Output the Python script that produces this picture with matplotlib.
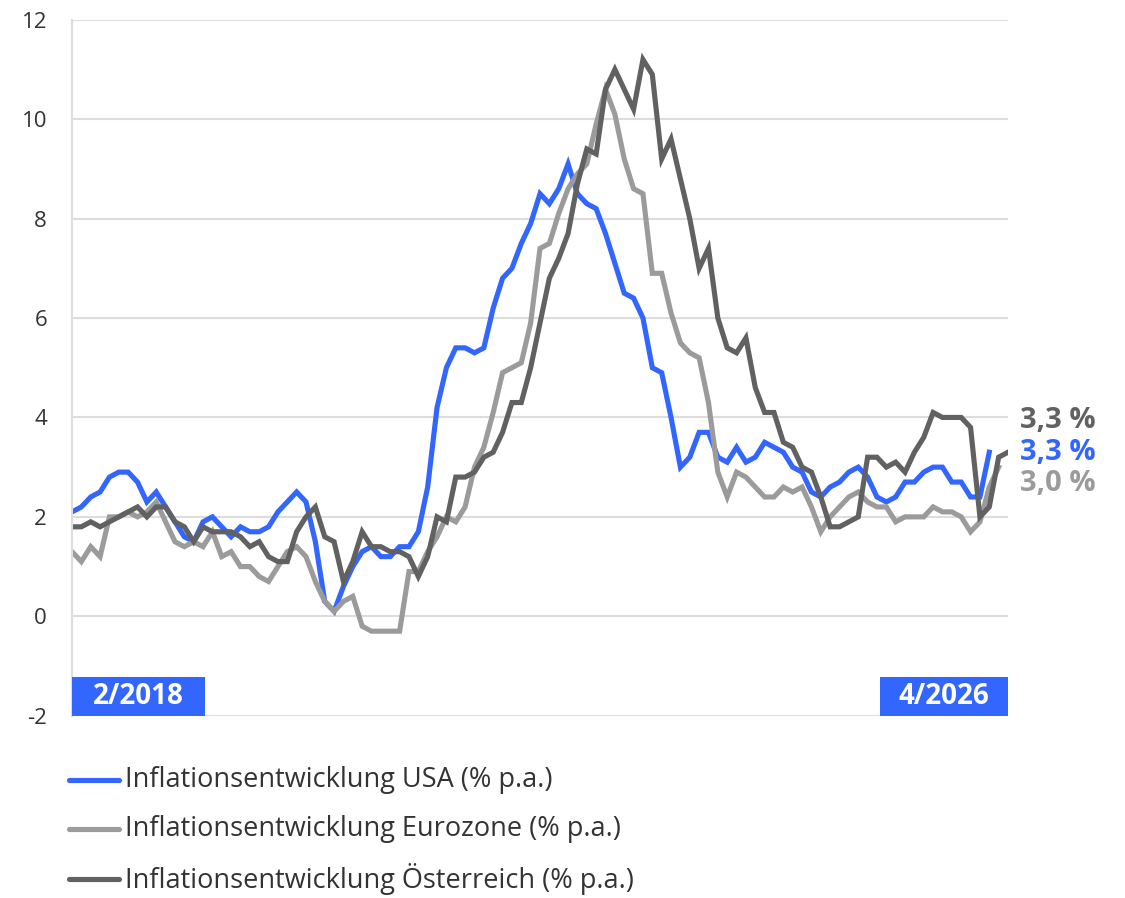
import matplotlib
matplotlib.use("Agg")
import matplotlib.pyplot as plt
from matplotlib.patches import Rectangle
from matplotlib.lines import Line2D
import numpy as np

# monthly values, Jan 2018 .. Apr 2026
usa = [2.1, 2.2, 2.4, 2.5, 2.8, 2.9, 2.9, 2.7, 2.3, 2.5, 2.2, 1.9,
       1.6, 1.5, 1.9, 2.0, 1.8, 1.6, 1.8, 1.7, 1.7, 1.8, 2.1, 2.3,
       2.5, 2.3, 1.5, 0.3, 0.1, 0.6, 1.0, 1.3, 1.4, 1.2, 1.2, 1.4,
       1.4, 1.7, 2.6, 4.2, 5.0, 5.4, 5.4, 5.3, 5.4, 6.2, 6.8, 7.0,
       7.5, 7.9, 8.5, 8.3, 8.6, 9.1, 8.5, 8.3, 8.2, 7.7, 7.1, 6.5,
       6.4, 6.0, 5.0, 4.9, 4.0, 3.0, 3.2, 3.7, 3.7, 3.2, 3.1, 3.4,
       3.1, 3.2, 3.5, 3.4, 3.3, 3.0, 2.9, 2.5, 2.4, 2.6, 2.7, 2.9,
       3.0, 2.8, 2.4, 2.3, 2.4, 2.7, 2.7, 2.9, 3.0, 3.0, 2.7, 2.7,
       2.4, 2.4, 3.3, np.nan]
eurozone = [1.3, 1.1, 1.4, 1.2, 2.0, 2.0, 2.1, 2.0, 2.1, 2.3, 1.9, 1.5,
            1.4, 1.5, 1.4, 1.7, 1.2, 1.3, 1.0, 1.0, 0.8, 0.7, 1.0, 1.3,
            1.4, 1.2, 0.7, 0.3, 0.1, 0.3, 0.4, -0.2, -0.3, -0.3, -0.3, -0.3,
            0.9, 0.9, 1.3, 1.6, 2.0, 1.9, 2.2, 3.0, 3.4, 4.1, 4.9, 5.0,
            5.1, 5.9, 7.4, 7.5, 8.1, 8.6, 8.9, 9.1, 9.9, 10.6, 10.1, 9.2,
            8.6, 8.5, 6.9, 6.9, 6.1, 5.5, 5.3, 5.2, 4.3, 2.9, 2.4, 2.9,
            2.8, 2.6, 2.4, 2.4, 2.6, 2.5, 2.6, 2.2, 1.7, 2.0, 2.2, 2.4,
            2.5, 2.3, 2.2, 2.2, 1.9, 2.0, 2.0, 2.0, 2.2, 2.1, 2.1, 2.0,
            1.7, 1.9, 2.6, 3.0]
austria = [1.8, 1.8, 1.9, 1.8, 1.9, 2.0, 2.1, 2.2, 2.0, 2.2, 2.2, 1.9,
           1.8, 1.5, 1.8, 1.7, 1.7, 1.7, 1.6, 1.4, 1.5, 1.2, 1.1, 1.1,
           1.7, 2.0, 2.2, 1.6, 1.5, 0.7, 1.1, 1.7, 1.4, 1.4, 1.3, 1.3,
           1.2, 0.8, 1.2, 2.0, 1.9, 2.8, 2.8, 2.9, 3.2, 3.3, 3.7, 4.3,
           4.3, 5.0, 5.9, 6.8, 7.2, 7.7, 8.7, 9.4, 9.3, 10.6, 11.0, 10.6,
           10.2, 11.2, 10.9, 9.2, 9.6, 8.8, 8.0, 7.0, 7.4, 6.0, 5.4, 5.3,
           5.6, 4.6, 4.1, 4.1, 3.5, 3.4, 3.0, 2.9, 2.4, 1.8, 1.8, 1.9,
           2.0, 3.2, 3.2, 3.0, 3.1, 2.9, 3.3, 3.6, 4.1, 4.0, 4.0, 4.0,
           3.8, 2.0, 2.2, 3.2, 3.3]
labels = ["Inflationsentwicklung USA (% p.a.)",
          "Inflationsentwicklung Eurozone (% p.a.)",
          "Inflationsentwicklung Österreich (% p.a.)"]
start_label = "2/2018"
end_label = "4/2026"
yticks = [-2, 0, 2, 4, 6, 8, 10, 12]

c_usa = "#3366ff"
c_eur = "#9b9b9b"
c_aut = "#616161"

plt.rcParams["font.family"] = ["Open Sans", "DejaVu Sans"]

fig = plt.figure(figsize=(11.25, 8.98), dpi=100)
ax = fig.add_axes([0.064, 0.203, 0.832, 0.775])

series = [(usa, c_usa), (eurozone, c_eur), (austria, c_aut)]
n = max(len(s) for s, _ in series)
for vals, col in series:
    ax.plot(np.arange(len(vals)), vals, color=col, lw=3.7, solid_joinstyle="miter")

ax.set_xlim(0, n - 1)
ax.set_ylim(-2, 12)
ax.set_yticks(yticks)
ax.set_yticklabels([str(t) for t in yticks], fontsize=16, color="#333333")
ax.tick_params(axis="y", length=0, pad=18)
ax.set_xticks([])
ax.grid(axis="y", color="#dddddd", lw=1.5)
ax.set_axisbelow(True)
for s in ["top", "right", "bottom"]:
    ax.spines[s].set_visible(False)
ax.spines["left"].set_color("#dddddd")
ax.spines["left"].set_linewidth(1.5)

# date boxes in the lower corners
bh = 0.055
for x0, w, txt in [(0.0, 0.142, start_label), (1.0 - 0.137, 0.137, end_label)]:
    ax.add_patch(Rectangle((x0, 0.0), w, bh, transform=ax.transAxes, fc=c_usa, ec="none",
                           zorder=5, clip_on=False))
    ax.text(x0 + w / 2, bh / 2, txt, transform=ax.transAxes, ha="center", va="center",
            fontsize=20, fontweight="bold", color="white", zorder=6)

# end labels
ref = usa[-2]
offs = [(austria, c_aut, 23), (usa, c_usa, 0), (eurozone, c_eur, -22.5)]
for vals, col, dy in offs:
    last = [v for v in vals if not np.isnan(v)][-1]
    ax.annotate(f"{last:.1f} %".replace(".", ","), xy=(1.0, ref), xycoords=("axes fraction", "data"),
                xytext=(9, dy), textcoords="offset points", ha="left", va="center",
                fontsize=21, fontweight="bold", color=col, annotation_clip=False)

# legend drawn by hand, evenly spaced rows
row_y = [0.1315, 0.0765, 0.0215]
for (vals, col), lab, y in zip(series, labels, row_y):
    fig.add_artist(Line2D([0.0615, 0.1055], [y, y], color=col, lw=3.7,
                          solid_capstyle="round", transform=fig.transFigure))
    fig.text(0.111, y, lab, ha="left", va="center", fontsize=19.5, color="#333333")

fig.savefig("out.png", dpi=100)
